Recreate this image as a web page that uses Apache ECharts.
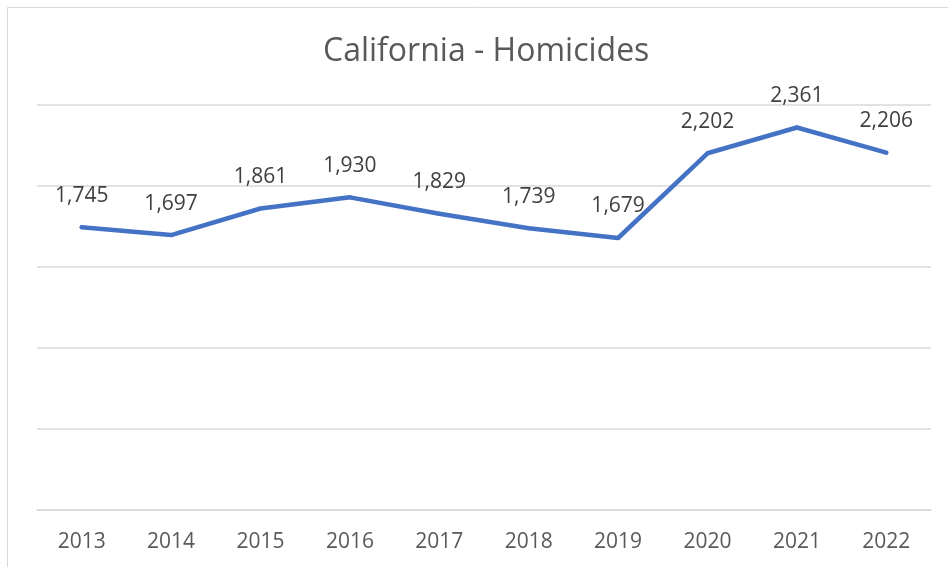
<!DOCTYPE html>
<html>
<head>
<meta charset="utf-8">
<script src="https://cdn.jsdelivr.net/npm/echarts@6/dist/echarts.min.js"></script>
<style>
  html, body { margin: 0; padding: 0; background: #fff; }
  #chart { width: 948px; height: 567px; }
</style>
</head>
<body>
<div id="chart"></div>
<script>
// data
const years = ['2013', '2014', '2015', '2016', '2017', '2018', '2019', '2020', '2021', '2022']
const homicides = [1745, 1697, 1861, 1930, 1829, 1739, 1679, 2202, 2361, 2206]

const chart = echarts.init(document.getElementById('chart'))
chart.setOption({
  animation: false,
  backgroundColor: '#fff',
  title: {
    text: 'California - Homicides',
    left: 318,
    top: 31,
    textStyle: { fontFamily: 'Open Sans', fontSize: 32, fontWeight: 'normal', color: '#595959' }
  },
  graphic: [{
    type: 'rect',
    shape: { x: 7.5, y: 7.5, width: 1200, height: 1200 },
    style: { fill: 'none', stroke: '#d9d9d9', lineWidth: 1 },
    silent: true
  }],
  grid: { left: 37, right: 17, top: 105, bottom: 57 },
  xAxis: {
    type: 'category',
    data: years,
    axisLine: { show: true, lineStyle: { color: '#d9d9d9', width: 1.5 } },
    axisTick: { show: false },
    axisLabel: { fontFamily: 'Open Sans', fontSize: 21, color: '#595959', margin: 22 }
  },
  yAxis: {
    type: 'value',
    min: 0,
    max: 2500,
    interval: 500,
    axisLabel: { show: false },
    axisLine: { show: false },
    axisTick: { show: false },
    splitLine: { lineStyle: { color: '#d9d9d9', width: 1.5 } }
  },
  series: [{
    type: 'line',
    data: homicides,
    symbol: 'circle',
    symbolSize: 4,
    showSymbol: true,
    itemStyle: { color: '#4472C4', borderWidth: 0 },
    lineStyle: { color: '#4472C4', width: 4.5, cap: 'round', join: 'round' },
    label: {
      show: true,
      position: 'top',
      distance: 19,
      fontFamily: 'Open Sans',
      fontSize: 21,
      color: '#404040',
      formatter: p => p.value.toLocaleString('en-US')
    },
    labelLayout: { hideOverlap: false }
  }]
})
</script>
</body>
</html>
